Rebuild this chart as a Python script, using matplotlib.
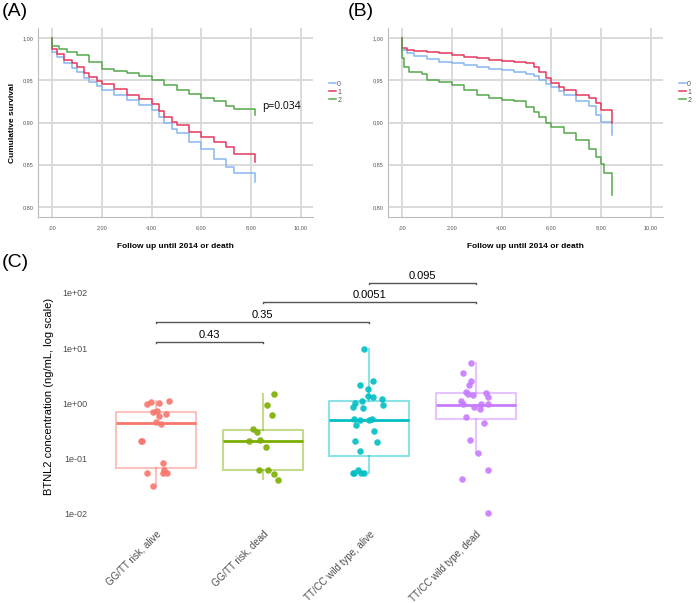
import numpy as np
import matplotlib
matplotlib.use("Agg")
import matplotlib.pyplot as plt

plt.rcParams['font.family'] = ['Liberation Sans', 'DejaVu Sans']

# ---- Kaplan-Meier curves, panel A ----
a_t0 = [0, 0.02, 0.2, 0.5, 0.8, 1.0, 1.3, 1.5, 1.8, 2.0, 2.5, 3.0, 3.5, 4.0, 4.3, 4.5, 4.8, 5.0, 5.5, 6.0, 6.5, 7.0, 7.3, 8.15]
a_s0 = [1.0, 0.984, 0.978, 0.970, 0.965, 0.960, 0.953, 0.948, 0.943, 0.939, 0.933, 0.927, 0.921, 0.915, 0.906, 0.899, 0.892, 0.887, 0.877, 0.869, 0.857, 0.847, 0.840, 0.829]
a_t1 = [0, 0.02, 0.2, 0.5, 0.8, 1.0, 1.3, 1.5, 1.8, 2.0, 2.5, 3.0, 3.5, 4.0, 4.3, 4.5, 4.8, 5.0, 5.5, 6.0, 6.5, 7.0, 7.3, 8.15]
a_s1 = [1.0, 0.987, 0.981, 0.974, 0.970, 0.966, 0.959, 0.954, 0.949, 0.946, 0.940, 0.933, 0.928, 0.922, 0.914, 0.907, 0.901, 0.897, 0.889, 0.883, 0.877, 0.871, 0.863, 0.853]
a_t2 = [0, 0.02, 0.3, 0.6, 1.0, 1.5, 2.0, 2.5, 3.0, 3.5, 4.0, 4.5, 5.0, 5.5, 6.0, 6.5, 7.0, 7.3, 8.15]
a_s2 = [1.0, 0.991, 0.987, 0.984, 0.980, 0.972, 0.964, 0.961, 0.959, 0.955, 0.951, 0.944, 0.939, 0.934, 0.929, 0.925, 0.920, 0.916, 0.909]

# ---- Kaplan-Meier curves, panel B ----
b_t0 = [0, 0.02, 0.2, 0.5, 1.0, 1.5, 2.0, 2.5, 3.0, 3.5, 4.0, 4.5, 5.0, 5.3, 5.5, 5.8, 6.0, 6.3, 6.5, 7.0, 7.5, 7.8, 8.0, 8.45]
b_s0 = [1.0, 0.986, 0.982, 0.979, 0.975, 0.972, 0.970, 0.968, 0.966, 0.964, 0.962, 0.960, 0.958, 0.955, 0.951, 0.946, 0.942, 0.937, 0.933, 0.926, 0.920, 0.909, 0.901, 0.885]
b_t1 = [0, 0.02, 0.2, 0.5, 1.0, 1.5, 2.0, 2.5, 3.0, 3.5, 4.0, 4.5, 5.0, 5.3, 5.5, 5.8, 6.0, 6.3, 6.5, 7.0, 7.5, 7.8, 8.0, 8.45]
b_s1 = [1.0, 0.988, 0.986, 0.985, 0.984, 0.982, 0.980, 0.978, 0.976, 0.974, 0.973, 0.972, 0.970, 0.966, 0.960, 0.953, 0.947, 0.942, 0.939, 0.933, 0.929, 0.923, 0.915, 0.899]
b_t2 = [0, 0.02, 0.1, 0.3, 0.8, 1.0, 1.5, 2.0, 2.5, 3.0, 3.5, 4.0, 4.5, 5.0, 5.3, 5.5, 5.8, 6.0, 6.5, 7.0, 7.5, 7.8, 8.0, 8.1, 8.45]
b_s2 = [1.0, 0.976, 0.966, 0.960, 0.958, 0.950, 0.948, 0.944, 0.939, 0.933, 0.929, 0.927, 0.925, 0.919, 0.913, 0.907, 0.900, 0.895, 0.888, 0.879, 0.869, 0.859, 0.851, 0.840, 0.814]

km_labels = ['0', '1', '2']
km_colors = ['#86b6f2', '#e5385c', '#55a84c']
x_ticks = [0, 2, 4, 6, 8, 10]
x_ticklabels = [',00', '2,00', '4,00', '6,00', '8,00', '10,00']
y_ticks = [0.80, 0.85, 0.90, 0.95, 1.00]
y_ticklabels = ['0,80', '0,85', '0,90', '0,95', '1,00']

# ---- panel C: BTNL2 concentrations ----
groups = ['GG/TT risk, alive', 'GG/TT risk, dead', 'TT/CC wild type, alive', 'TT/CC wild type, dead']
g1_vals = [0.99, 1.06, 1.02, 1.12, 0.70, 0.72, 0.65, 0.58, 0.46, 0.42, 0.21, 0.21, 0.085, 0.054, 0.063, 0.054, 0.054, 0.032]
g1_jit = [-0.08, -0.047, 0.03, 0.125, -0.025, 0.006, 0.094, 0.03, 0.0, 0.044, -0.137, -0.13, 0.069, -0.08, 0.078, 0.069, 0.106, -0.031]
g2_vals = [1.48, 0.92, 0.62, 0.34, 0.31, 0.21, 0.22, 0.16, 0.0625, 0.0625, 0.053, 0.041]
g2_jit = [0.106, 0.044, 0.09, -0.09, -0.05, -0.128, -0.025, 0.028, -0.034, 0.053, 0.106, 0.147]
g3_vals = [9.6, 2.12, 2.57, 1.85, 1.36, 1.32, 1.12, 1.20, 1.0, 0.85, 0.83, 0.94, 0.52, 0.50, 0.50, 0.52,
           0.40, 0.32, 0.21, 0.20, 0.138, 0.054, 0.054, 0.063, 0.054, 0.054]
g3_jit = [-0.053, -0.084, 0.031, -0.016, -0.009, 0.0375, -0.072, 0.119, -0.131, -0.156, -0.056, 0.125, -0.14, -0.0875, 0.0, 0.022,
          -0.125, 0.047, -0.131, 0.075, -0.09, -0.156, -0.14, -0.11, -0.078, -0.047]
g4_vals = [5.3, 3.5, 2.57, 2.12, 1.63, 1.42, 1.48, 1.56, 1.32, 1.12, 0.98, 0.87, 0.78, 0.98, 0.98,
           0.575, 0.44, 0.22, 0.129, 0.063, 0.043, 0.0105]
g4_jit = [-0.047, -0.125, -0.05, -0.0625, -0.094, -0.025, -0.078, 0.09, 0.116, -0.1375, -0.119, -0.019, 0.0375, 0.047, 0.109,
          -0.097, 0.078, -0.056, 0.016, 0.116, -0.134, 0.116]
box_q1 = [0.067, 0.0625, 0.112, 0.525]
box_med = [0.44, 0.21, 0.50, 0.94]
box_q3 = [0.71, 0.33, 1.12, 1.56]
box_lo = [0.032, 0.043, 0.054, 0.126]
box_hi = [1.12, 1.48, 9.6, 5.3]
grp_colors = ['#F8766D', '#7CAE00', '#00BFC4', '#C77CFF']

# comparisons: (group a, group b, bracket height, label)
comp_pairs = [(1, 2), (1, 3), (2, 4), (3, 4)]
comp_y = [12.9, 29.5, 67.6, 151.0]
comp_p = ['0.43', '0.35', '0.0051', '0.095']

fig = plt.figure(figsize=(6.99, 6.03), dpi=100)


def km_panel(ax, curves, ylabel):
    for (t, s), lab, c in zip(curves, km_labels, km_colors):
        ax.step(t, s, where='post', color=c, lw=1.1, label=lab)
    ax.set_xlim(-0.56, 10.48)
    ax.set_ylim(0.788, 1.012)
    ax.set_xticks(x_ticks)
    ax.set_xticklabels(x_ticklabels)
    ax.set_yticks(y_ticks)
    ax.set_yticklabels(y_ticklabels)
    ax.tick_params(labelsize=4, colors='#555555', length=0)
    ax.tick_params(axis='x', pad=6)
    ax.tick_params(axis='y', pad=3)
    ax.grid(True, color='#d8d8d8', lw=1.3)
    ax.set_axisbelow(True)
    for side in ['top', 'right']:
        ax.spines[side].set_visible(False)
    for side in ['left', 'bottom']:
        ax.spines[side].set_color('#bbbbbb')
        ax.spines[side].set_linewidth(0.8)
    ax.set_xlabel('Follow up until 2014 or death', fontsize=6, fontweight='bold', labelpad=9)
    if ylabel:
        ax.set_ylabel('Cumulative survival', fontsize=6, fontweight='bold', labelpad=5)
    ax.legend(loc='center left', bbox_to_anchor=(1.035, 0.66), frameon=False, fontsize=5,
              handlelength=1.0, handletextpad=0.2, labelspacing=0.15, labelcolor='#555555')


axA = fig.add_axes([0.0544, 0.6401, 0.3934, 0.3134])
km_panel(axA, [(a_t0, a_s0), (a_t1, a_s1), (a_t2, a_s2)], True)
axA.text(8.45, 0.9185, 'p=0.034', fontsize=7.5, family=['Open Sans', 'DejaVu Sans'], va='center')

axB = fig.add_axes([0.555, 0.6401, 0.3934, 0.3134])
km_panel(axB, [(b_t0, b_s0), (b_t1, b_s1), (b_t2, b_s2)], False)

# ---- panel C ----
axC = fig.add_axes([0.1316, 0.1343, 0.641, 0.4179])
axC.set_yscale('log')
pos = np.arange(1, 5)
for i in range(4):
    st = [dict(med=box_med[i], q1=box_q1[i], q3=box_q3[i], whislo=box_lo[i], whishi=box_hi[i], fliers=[])]
    c = grp_colors[i]
    axC.bxp(st, positions=[pos[i]], widths=0.75, showfliers=False, showcaps=False,
            boxprops=dict(color=c, alpha=0.45, lw=1.5),
            whiskerprops=dict(color=c, alpha=0.45, lw=1.5),
            medianprops=dict(color=c, lw=2.0))

for i, (vals, jit) in enumerate([(g1_vals, g1_jit), (g2_vals, g2_jit), (g3_vals, g3_jit), (g4_vals, g4_jit)]):
    axC.scatter(pos[i] + np.array(jit), vals, s=22, color=grp_colors[i], alpha=0.9, lw=0, zorder=3)

for (a, b), yv, lab in zip(comp_pairs, comp_y, comp_p):
    drop = yv / 1.05
    axC.plot([a, a, b, b], [drop, yv, yv, drop], color='#555555', lw=1.0)
    axC.text((a + b) / 2, yv * 1.09, lab, ha='center', va='bottom', fontsize=8)

axC.set_xlim(0.4, 4.6)
axC.set_ylim(10 ** -2.145, 10 ** 2.412)
axC.set_yticks([1e-2, 1e-1, 1e0, 1e1, 1e2])
axC.set_yticklabels(['1e-02', '1e-01', '1e+00', '1e+01', '1e+02'])
axC.minorticks_off()
axC.set_xticks(pos)
axC.set_xticklabels(groups, rotation=45, ha='right', rotation_mode='anchor')
axC.tick_params(axis='both', labelsize=6.5, colors='#4d4d4d', length=0)
axC.tick_params(axis='x', labelsize=7, pad=5)
for side in axC.spines:
    axC.spines[side].set_visible(False)
axC.set_ylabel('BTNL2 concentration (ng/mL, log scale)', fontsize=8, labelpad=6)

fig.text(0.002, 0.995, '(A)', fontsize=14, va='top', ha='left')
fig.text(0.498, 0.995, '(B)', fontsize=14, va='top', ha='left')
fig.text(0.002, 0.578, '(C)', fontsize=14, va='top', ha='left')

fig.savefig('out.png', dpi=100)
